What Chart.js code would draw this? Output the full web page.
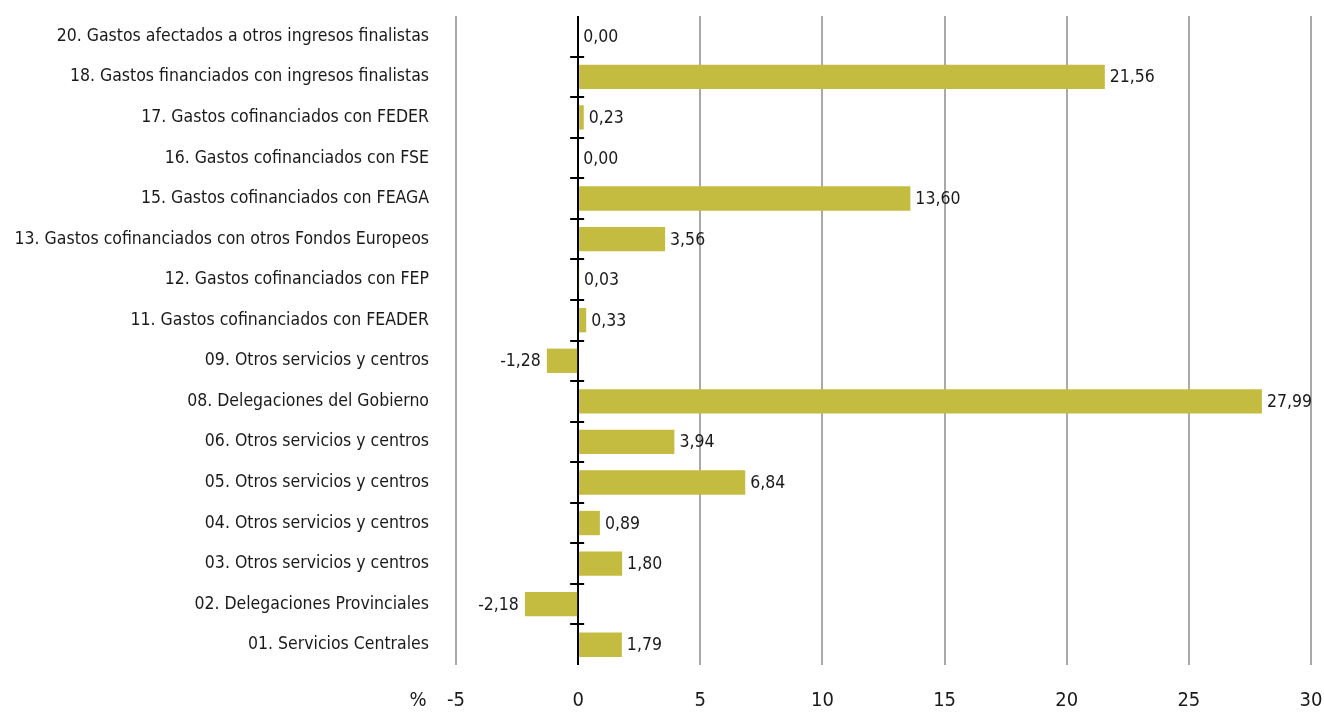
<!DOCTYPE html>
<html>
<head>
<meta charset="utf-8">
<script src="https://cdn.jsdelivr.net/npm/chart.js@4/dist/chart.umd.min.js"></script>
<style>
  html, body { margin: 0; padding: 0; background: #fff; }
  #wrap { width: 1324px; height: 713px; }
</style>
</head>
<body>
<div id="wrap"><canvas id="myChart"></canvas></div>
<script>
const categories = [
  "20. Gastos afectados a otros ingresos finalistas",
  "18. Gastos financiados con ingresos finalistas",
  "17. Gastos cofinanciados con FEDER",
  "16. Gastos cofinanciados con FSE",
  "15. Gastos cofinanciados con FEAGA",
  "13. Gastos cofinanciados con otros Fondos Europeos",
  "12. Gastos cofinanciados con FEP",
  "11. Gastos cofinanciados con FEADER",
  "09. Otros servicios y centros",
  "08. Delegaciones del Gobierno",
  "06. Otros servicios y centros",
  "05. Otros servicios y centros",
  "04. Otros servicios y centros",
  "03. Otros servicios y centros",
  "02. Delegaciones Provinciales",
  "01. Servicios Centrales",
];
const values = [0.0, 21.56, 0.23, 0.0, 13.6, 3.56, 0.03, 0.33, -1.28, 27.99, 3.94, 6.84, 0.89, 1.8, -2.18, 1.79];
const xTicks = [-5, 0, 5, 10, 15, 20, 25, 30];
const unitLabel = "%";

const FONT = '"Liberation Sans Narrow", "DejaVu Sans Condensed", "Roboto", sans-serif';
const TEXT = "#1a1a1a";

// value labels next to each bar, comma decimals
const valueLabels = {
  id: "valueLabels",
  afterDatasetsDraw(chart) {
    const ctx = chart.ctx;
    const meta = chart.getDatasetMeta(0);
    const x = chart.scales.x;
    ctx.save();
    ctx.font = "17.5px " + FONT;
    ctx.fillStyle = TEXT;
    ctx.textBaseline = "middle";
    meta.data.forEach((bar, i) => {
      const v = values[i];
      const txt = v.toFixed(2).replace(".", ",");
      if (v < 0) {
        ctx.textAlign = "right";
        ctx.fillText(txt, x.getPixelForValue(v) - 6, bar.y + 1);
      } else {
        ctx.textAlign = "left";
        ctx.fillText(txt, Math.max(bar.x, x.getPixelForValue(0)) + 5, bar.y + 1);
      }
    });
    ctx.restore();
  },
};

// little tick marks on the zero line between categories + the % unit
const zeroTicks = {
  id: "zeroTicks",
  afterDraw(chart) {
    const ctx = chart.ctx;
    const x = chart.scales.x;
    const y = chart.scales.y;
    const x0 = x.getPixelForValue(0);
    ctx.save();
    ctx.strokeStyle = "#000";
    ctx.lineWidth = 2;
    for (let i = 0; i < categories.length - 1; i++) {
      const py = Math.round(y.getPixelForValue(i + 0.5));
      ctx.beginPath();
      ctx.moveTo(x0 - 8, py);
      ctx.lineTo(x0 + 6, py);
      ctx.stroke();
    }
    ctx.font = "20px " + FONT;
    ctx.fillStyle = TEXT;
    ctx.textAlign = "center";
    ctx.textBaseline = "middle";
    ctx.fillText(unitLabel, x.getPixelForValue(xTicks[0]) - 38, 701);
    ctx.restore();
  },
};

const ctx = document.getElementById("myChart");
new Chart(ctx, {
  type: "bar",
  data: {
    labels: categories,
    datasets: [
      {
        data: values,
        backgroundColor: "#c4bc41",
        borderWidth: 0,
        barPercentage: 0.6,
        categoryPercentage: 1,
      },
    ],
  },
  options: {
    indexAxis: "y",
    responsive: true,
    maintainAspectRatio: false,
    animation: false,
    layout: { padding: { top: 16, right: 13, left: 0, bottom: 0 } },
    plugins: {
      legend: { display: false },
      tooltip: { enabled: false },
    },
    scales: {
      x: {
        min: xTicks[0],
        max: xTicks[xTicks.length - 1],
        afterBuildTicks: (scale) => {
          scale.ticks = xTicks.map((v) => ({ value: v }));
        },
        afterFit: (scale) => {
          scale.height = 48;
          scale.paddingLeft = 0;
          scale.paddingRight = 0;
        },
        border: { display: false },
        grid: {
          drawTicks: false,
          lineWidth: 2,
          color: (c) => (c.tick && c.tick.value === 0 ? "#000" : "#a9a9a9"),
        },
        ticks: {
          padding: 24,
          color: TEXT,
          font: { family: FONT, size: 20 },
        },
      },
      y: {
        afterFit: (scale) => {
          scale.width = 456;
          scale.paddingTop = 0;
          scale.paddingBottom = 0;
        },
        border: { display: false },
        grid: { display: false, drawTicks: false },
        ticks: {
          padding: 27,
          color: TEXT,
          font: { family: FONT, size: 17.5 },
        },
      },
    },
  },
  plugins: [valueLabels, zeroTicks],
});
</script>
</body>
</html>
